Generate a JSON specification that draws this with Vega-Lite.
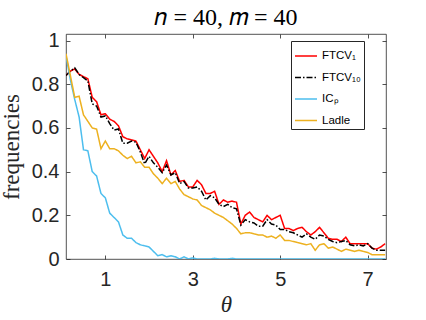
{
  "$schema": "https://vega.github.io/schema/vega-lite/v6.json",
  "width": 320,
  "height": 225,
  "autosize": {"type": "none"},
  "padding": {"left": 66, "top": 34, "right": 40, "bottom": 61},
  "background": "white",
  "title": {"text": "𝑛 = 40, 𝑚 = 40", "font": "Liberation Serif", "fontSize": 24, "fontWeight": "normal", "color": "#000000", "baseline": "alphabetic", "offset": 12, "dy": 30, "anchor": "middle"},
  "data": {"values": [
    {"t":0.1,"FTCV₁":0.84,"FTCV₁₀":0.84,"ICₚ":0.93,"Ladle":0.94},
    {"t":0.2,"FTCV₁":0.86,"FTCV₁₀":0.86,"ICₚ":0.82,"Ladle":0.84},
    {"t":0.3,"FTCV₁":0.87,"FTCV₁₀":0.875,"ICₚ":0.73,"Ladle":0.74},
    {"t":0.4,"FTCV₁":0.845,"FTCV₁₀":0.845,"ICₚ":0.65,"Ladle":0.745},
    {"t":0.5,"FTCV₁":0.835,"FTCV₁₀":0.83,"ICₚ":0.5,"Ladle":0.66},
    {"t":0.6,"FTCV₁":0.825,"FTCV₁₀":0.815,"ICₚ":0.495,"Ladle":0.63},
    {"t":0.7,"FTCV₁":0.74,"FTCV₁₀":0.71,"ICₚ":0.4,"Ladle":0.6},
    {"t":0.8,"FTCV₁":0.72,"FTCV₁₀":0.7,"ICₚ":0.38,"Ladle":0.595},
    {"t":0.9,"FTCV₁":0.66,"FTCV₁₀":0.65,"ICₚ":0.3,"Ladle":0.505},
    {"t":1.0,"FTCV₁":0.665,"FTCV₁₀":0.655,"ICₚ":0.28,"Ladle":0.54},
    {"t":1.1,"FTCV₁":0.64,"FTCV₁₀":0.62,"ICₚ":0.21,"Ladle":0.505},
    {"t":1.2,"FTCV₁":0.63,"FTCV₁₀":0.59,"ICₚ":0.19,"Ladle":0.505},
    {"t":1.3,"FTCV₁":0.61,"FTCV₁₀":0.595,"ICₚ":0.17,"Ladle":0.495},
    {"t":1.4,"FTCV₁":0.56,"FTCV₁₀":0.53,"ICₚ":0.11,"Ladle":0.475},
    {"t":1.5,"FTCV₁":0.55,"FTCV₁₀":0.53,"ICₚ":0.095,"Ladle":0.46},
    {"t":1.6,"FTCV₁":0.545,"FTCV₁₀":0.54,"ICₚ":0.095,"Ladle":0.47},
    {"t":1.7,"FTCV₁":0.54,"FTCV₁₀":0.535,"ICₚ":0.075,"Ladle":0.44},
    {"t":1.8,"FTCV₁":0.5,"FTCV₁₀":0.49,"ICₚ":0.065,"Ladle":0.445},
    {"t":1.9,"FTCV₁":0.46,"FTCV₁₀":0.435,"ICₚ":0.06,"Ladle":0.42},
    {"t":2.0,"FTCV₁":0.5,"FTCV₁₀":0.47,"ICₚ":0.055,"Ladle":0.42},
    {"t":2.1,"FTCV₁":0.47,"FTCV₁₀":0.44,"ICₚ":0.035,"Ladle":0.39},
    {"t":2.2,"FTCV₁":0.44,"FTCV₁₀":0.42,"ICₚ":0.015,"Ladle":0.37},
    {"t":2.3,"FTCV₁":0.4,"FTCV₁₀":0.395,"ICₚ":0.02,"Ladle":0.345},
    {"t":2.4,"FTCV₁":0.45,"FTCV₁₀":0.43,"ICₚ":0.01,"Ladle":0.37},
    {"t":2.5,"FTCV₁":0.385,"FTCV₁₀":0.385,"ICₚ":0.015,"Ladle":0.345},
    {"t":2.6,"FTCV₁":0.405,"FTCV₁₀":0.395,"ICₚ":0.01,"Ladle":0.355},
    {"t":2.7,"FTCV₁":0.355,"FTCV₁₀":0.345,"ICₚ":0.0,"Ladle":0.32},
    {"t":2.8,"FTCV₁":0.36,"FTCV₁₀":0.355,"ICₚ":0.01,"Ladle":0.295},
    {"t":2.9,"FTCV₁":0.33,"FTCV₁₀":0.325,"ICₚ":0.0,"Ladle":0.285},
    {"t":3.0,"FTCV₁":0.33,"FTCV₁₀":0.325,"ICₚ":0.005,"Ladle":0.275},
    {"t":3.1,"FTCV₁":0.36,"FTCV₁₀":0.33,"ICₚ":0.0,"Ladle":0.27},
    {"t":3.2,"FTCV₁":0.34,"FTCV₁₀":0.31,"ICₚ":0.0,"Ladle":0.245},
    {"t":3.3,"FTCV₁":0.3,"FTCV₁₀":0.27,"ICₚ":0.0,"Ladle":0.235},
    {"t":3.4,"FTCV₁":0.3,"FTCV₁₀":0.29,"ICₚ":0.0,"Ladle":0.225},
    {"t":3.5,"FTCV₁":0.31,"FTCV₁₀":0.28,"ICₚ":0.003,"Ladle":0.21},
    {"t":3.6,"FTCV₁":0.25,"FTCV₁₀":0.25,"ICₚ":0.0,"Ladle":0.2},
    {"t":3.7,"FTCV₁":0.27,"FTCV₁₀":0.24,"ICₚ":0.0,"Ladle":0.19},
    {"t":3.8,"FTCV₁":0.26,"FTCV₁₀":0.25,"ICₚ":0.0,"Ladle":0.175},
    {"t":3.9,"FTCV₁":0.265,"FTCV₁₀":0.235,"ICₚ":0.003,"Ladle":0.16},
    {"t":4.0,"FTCV₁":0.26,"FTCV₁₀":0.23,"ICₚ":0.0,"Ladle":0.14},
    {"t":4.1,"FTCV₁":0.16,"FTCV₁₀":0.155,"ICₚ":0.0,"Ladle":0.115},
    {"t":4.2,"FTCV₁":0.2,"FTCV₁₀":0.18,"ICₚ":0.0,"Ladle":0.12},
    {"t":4.3,"FTCV₁":0.215,"FTCV₁₀":0.17,"ICₚ":0.0,"Ladle":0.12},
    {"t":4.4,"FTCV₁":0.19,"FTCV₁₀":0.165,"ICₚ":0.0,"Ladle":0.115},
    {"t":4.5,"FTCV₁":0.18,"FTCV₁₀":0.15,"ICₚ":0.0,"Ladle":0.11},
    {"t":4.6,"FTCV₁":0.17,"FTCV₁₀":0.15,"ICₚ":0.0,"Ladle":0.11},
    {"t":4.7,"FTCV₁":0.2,"FTCV₁₀":0.18,"ICₚ":0.0,"Ladle":0.1},
    {"t":4.8,"FTCV₁":0.18,"FTCV₁₀":0.16,"ICₚ":0.0,"Ladle":0.105},
    {"t":4.9,"FTCV₁":0.19,"FTCV₁₀":0.155,"ICₚ":0.0,"Ladle":0.095},
    {"t":5.0,"FTCV₁":0.2,"FTCV₁₀":0.135,"ICₚ":0.0,"Ladle":0.11},
    {"t":5.1,"FTCV₁":0.14,"FTCV₁₀":0.135,"ICₚ":0.0,"Ladle":0.085},
    {"t":5.2,"FTCV₁":0.14,"FTCV₁₀":0.125,"ICₚ":0.0,"Ladle":0.085},
    {"t":5.3,"FTCV₁":0.13,"FTCV₁₀":0.12,"ICₚ":0.0,"Ladle":0.08},
    {"t":5.4,"FTCV₁":0.14,"FTCV₁₀":0.11,"ICₚ":0.0,"Ladle":0.075},
    {"t":5.5,"FTCV₁":0.145,"FTCV₁₀":0.1,"ICₚ":0.0,"Ladle":0.07},
    {"t":5.6,"FTCV₁":0.125,"FTCV₁₀":0.115,"ICₚ":0.0,"Ladle":0.065},
    {"t":5.7,"FTCV₁":0.11,"FTCV₁₀":0.1,"ICₚ":0.0,"Ladle":0.07},
    {"t":5.8,"FTCV₁":0.125,"FTCV₁₀":0.09,"ICₚ":0.0,"Ladle":0.04},
    {"t":5.9,"FTCV₁":0.145,"FTCV₁₀":0.11,"ICₚ":0.0,"Ladle":0.065},
    {"t":6.0,"FTCV₁":0.12,"FTCV₁₀":0.105,"ICₚ":0.0,"Ladle":0.07},
    {"t":6.1,"FTCV₁":0.095,"FTCV₁₀":0.09,"ICₚ":0.0,"Ladle":0.05},
    {"t":6.2,"FTCV₁":0.09,"FTCV₁₀":0.08,"ICₚ":0.0,"Ladle":0.055},
    {"t":6.3,"FTCV₁":0.09,"FTCV₁₀":0.075,"ICₚ":0.0,"Ladle":0.045},
    {"t":6.4,"FTCV₁":0.08,"FTCV₁₀":0.08,"ICₚ":0.0,"Ladle":0.035},
    {"t":6.5,"FTCV₁":0.1,"FTCV₁₀":0.085,"ICₚ":0.0,"Ladle":0.045},
    {"t":6.6,"FTCV₁":0.07,"FTCV₁₀":0.065,"ICₚ":0.0,"Ladle":0.04},
    {"t":6.7,"FTCV₁":0.07,"FTCV₁₀":0.06,"ICₚ":0.0,"Ladle":0.035},
    {"t":6.8,"FTCV₁":0.07,"FTCV₁₀":0.065,"ICₚ":0.0,"Ladle":0.04},
    {"t":6.9,"FTCV₁":0.07,"FTCV₁₀":0.06,"ICₚ":0.0,"Ladle":0.035},
    {"t":7.0,"FTCV₁":0.07,"FTCV₁₀":0.07,"ICₚ":0.0,"Ladle":0.03},
    {"t":7.1,"FTCV₁":0.05,"FTCV₁₀":0.05,"ICₚ":0.0,"Ladle":0.02},
    {"t":7.2,"FTCV₁":0.045,"FTCV₁₀":0.04,"ICₚ":0.0,"Ladle":0.02},
    {"t":7.3,"FTCV₁":0.055,"FTCV₁₀":0.04,"ICₚ":0.0,"Ladle":0.02},
    {"t":7.4,"FTCV₁":0.07,"FTCV₁₀":0.04,"ICₚ":0.0,"Ladle":0.02}
  ]},
  "transform": [{"fold": ["FTCV₁", "FTCV₁₀", "ICₚ", "Ladle"], "as": ["series", "f"]}],
  "layer": [
    {
      "mark": {"type": "line", "strokeWidth": 1.5, "clip": true},
      "encoding": {
        "x": {"field": "t", "type": "quantitative", "scale": {"domain": [0.1, 7.42], "nice": false, "zero": false},
              "axis": {"values": [1, 3, 5, 7], "title": "θ", "titleFont": "Liberation Serif", "titleFontStyle": "italic", "titleFontWeight": "normal", "titleFontSize": 23, "titlePadding": 4, "labelPadding": 14}},
        "y": {"field": "f", "type": "quantitative", "scale": {"domain": [0, 1.03], "nice": false},
              "axis": {"values": [0, 0.2, 0.4, 0.6, 0.8, 1], "format": "~g", "title": "frequencies", "titleFont": "Liberation Serif", "titleFontWeight": "normal", "titleFontSize": 23, "titlePadding": 8, "labelPadding": 11}},
        "color": {"field": "series", "type": "nominal",
                  "scale": {"domain": ["FTCV₁", "FTCV₁₀", "ICₚ", "Ladle"], "range": ["#FF0000", "#000000", "#4DBEEE", "#EDB120"]},
                  "legend": {"title": null, "orient": "none", "legendX": 225, "legendY": 7, "symbolType": "stroke", "symbolSize": 484, "symbolStrokeWidth": 1.5, "labelFont": "Liberation Sans", "labelFontSize": 11.5, "labelColor": "#000000", "rowPadding": 3.5, "padding": 3, "labelOffset": 4, "strokeColor": "#262626", "fillColor": "white"}},
        "strokeDash": {"field": "series", "type": "nominal",
                  "scale": {"domain": ["FTCV₁", "FTCV₁₀", "ICₚ", "Ladle"], "range": [[1, 0], [6, 2, 1.5, 2], [1, 0], [1, 0]]},
                  "legend": null},
        "order": {"field": "t", "type": "quantitative"}
      }
    },
    {
      "mark": {"type": "line", "opacity": 0},
      "encoding": {
        "x": {"field": "t", "type": "quantitative", "axis": {"orient": "top", "values": [1, 3, 5, 7], "labels": false, "title": null, "minExtent": 0, "maxExtent": 0}},
        "y": {"field": "f", "type": "quantitative", "axis": {"orient": "right", "values": [0, 0.2, 0.4, 0.6, 0.8, 1], "labels": false, "title": null, "minExtent": 0, "maxExtent": 0}},
        "detail": {"field": "series", "type": "nominal"}
      }
    }
  ],
  "resolve": {"axis": {"x": "independent", "y": "independent"}},
  "config": {
    "view": {"stroke": "#262626", "strokeWidth": 0.8},
    "axis": {"domain": false, "grid": false, "tickColor": "#262626", "tickSize": -4, "tickWidth": 0.8, "labelColor": "#262626", "labelFont": "Liberation Sans", "labelFontSize": 20, "titleColor": "#262626"}
  }
}
